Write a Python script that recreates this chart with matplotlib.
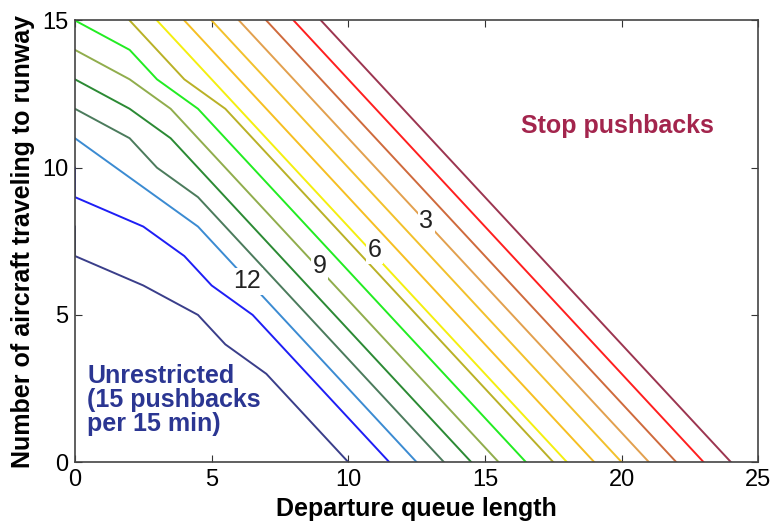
import matplotlib.pyplot as plt

plt.rcParams['font.family'] = ['Liberation Sans', 'DejaVu Sans']

# pushback rate contours (pushbacks per 15 min), level 0 = stop, 14 = near unrestricted
levels = [0, 1, 2, 3, 4, 5, 6, 7, 8, 9, 10, 11, 12, 13, 14]
line_x = [
    [9, 24],
    [8, 23],
    [7, 22],
    [6, 21],
    [5, 20],
    [4, 19],
    [3, 18],
    [2, 4, 5.5, 17.5],
    [0, 2, 3, 4.5, 16.5],
    [0, 2, 3.5, 15.5],
    [0, 2, 3.5, 14.5],
    [0, 2, 3, 4.5, 13.5],
    [0, 4.5, 12.5],
    [0, 0, 2.5, 4, 5, 6.5, 11.5],
    [0, 0, 2.5, 4.5, 5.5, 7, 10],
]
line_y = [
    [15, 0],
    [15, 0],
    [15, 0],
    [15, 0],
    [15, 0],
    [15, 0],
    [15, 0],
    [15, 13, 12, 0],
    [15, 14, 13, 12, 0],
    [14, 13, 12, 0],
    [13, 12, 11, 0],
    [12, 11, 10, 9, 0],
    [11, 8, 0],
    [10, 9, 8, 7, 6, 5, 0],
    [8, 7, 6, 5, 4, 3, 0],
]
colors = ['#9c3550', '#ff1f1f', '#cf6a3c', '#e2a04e', '#f2c12c', '#f6bf22',
          '#f4ef10', '#b9b126', '#22ec22', '#90ad4c', '#2b8a34', '#4b7b5c',
          '#3b8bd2', '#1e1ef5', '#3a3e8a']

# inline contour labels
label_text = ['3', '6', '9', '12']
label_x = [12.85, 10.95, 8.95, 6.3]
label_y = [8.2, 7.2, 6.65, 6.15]

fig = plt.figure(figsize=(7.73, 5.24), dpi=100)
ax = fig.add_axes([0.097, 0.118, 0.884, 0.843])

for xs, ys, c in zip(line_x, line_y, colors):
    ax.plot(xs, ys, color=c, lw=1.4, solid_joinstyle='miter')

for t, x, y in zip(label_text, label_x, label_y):
    ax.text(x, y, t, fontsize=18, ha='center', va='center', color='#222222',
            bbox=dict(facecolor='white', edgecolor='none', pad=1.0))

ax.text(19.85, 11.4, 'Stop pushbacks', color='#a3254d', fontsize=18,
        fontweight='bold', ha='center', va='center')
ax.text(0.45, 3.32, 'Unrestricted\n(15 pushbacks\nper 15 min)', color='#2b3692',
        fontsize=18, fontweight='bold', ha='left', va='top', linespacing=0.98)

ax.set_xlim(0, 25)
ax.set_ylim(0, 15)
ax.set_xticks([0, 5, 10, 15, 20, 25])
ax.set_yticks([0, 5, 10, 15])
ax.tick_params(direction='in', top=True, right=True, labelsize=17, length=5,
               color='#333333', pad=5)
for s in ax.spines.values():
    s.set_color('#444444')
    s.set_linewidth(1.2)

ax.set_xlabel('Departure queue length', fontsize=18, fontweight='bold', labelpad=4)
ax.set_ylabel('Number of aircraft traveling to runway', fontsize=18,
              fontweight='bold', labelpad=5)

fig.savefig('out.png', dpi=100)
